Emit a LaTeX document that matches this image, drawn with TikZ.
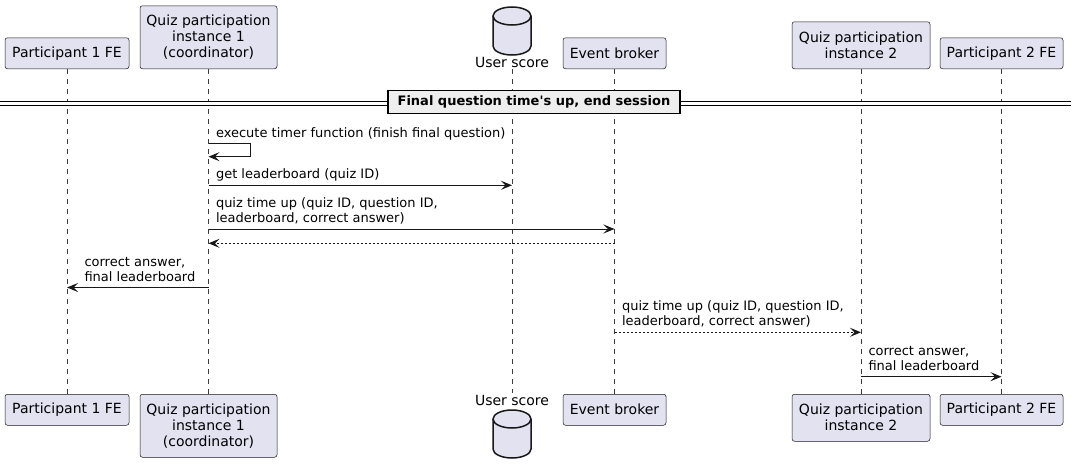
\documentclass[tikz,border=0pt]{standalone}
\usepackage{fontspec}
\newfontfamily\umlfont{DejaVu Sans}
\usetikzlibrary{arrows.meta,positioning}
\definecolor{boxfill}{HTML}{E2E2F0}
\definecolor{linecol}{HTML}{181818}
\definecolor{divfill}{HTML}{EEEEEE}

\tikzset{
  actor/.style={draw=linecol, line width=0.5pt, fill=boxfill, rounded corners=2.5pt,
    align=center, inner sep=0pt, font=\umlfont\fontsize{14}{16}\selectfont},
  dblabel/.style={inner sep=2pt, font=\umlfont\fontsize{14}{16}\selectfont},
  lifeline/.style={draw=linecol!85, line width=0.5pt, dash pattern=on 5pt off 5pt},
  msg/.style={draw=linecol, line width=1pt, -{Stealth[length=11pt,width=9pt,inset=4.5pt]}},
  reply/.style={msg, dash pattern=on 2pt off 2pt},
  msgtext/.style={align=left, inner sep=0pt, text depth=0pt,
    font=\umlfont\fontsize{13}{15}\selectfont},
  divbox/.style={draw=black, line width=1.5pt, fill=divfill, inner sep=0pt,
    font=\umlfont\bfseries\fontsize{13}{15}\selectfont},
}

\begin{document}
\begin{tikzpicture}[x=1pt, y=-1pt]
\useasboundingbox[fill=white] (0,0) rectangle (1074,471);

% participants, top row
\node [actor, anchor=south, minimum width=124, minimum height=31] (p1t) at (67,69) {Participant 1 FE};
\node [actor, anchor=south, minimum width=137, minimum height=63] (q1t) at (208.5,69) {Quiz participation\\instance 1\\(coordinator)};
\node [dblabel, anchor=base] (ust) at (512,67) {User score};
\node [actor, anchor=south, minimum width=103, minimum height=31] (ebt) at (614.5,69) {Event broker};
\node [actor, anchor=south, minimum width=138, minimum height=47] (q2t) at (861,69) {Quiz participation\\instance 2};
\node [actor, anchor=south, minimum width=123, minimum height=31] (p2t) at (1001.5,69) {Participant 2 FE};

% participants, bottom row
\node [actor, anchor=north, minimum width=124, minimum height=31] (p1b) at (67,394) {Participant 1 FE};
\node [actor, anchor=north, minimum width=137, minimum height=63] (q1b) at (208.5,394) {Quiz participation\\instance 1\\(coordinator)};
\node [dblabel, anchor=base] (usb) at (512,405) {User score};
\node [actor, anchor=north, minimum width=103, minimum height=31] (ebb) at (614.5,394) {Event broker};
\node [actor, anchor=north, minimum width=138, minimum height=47] (q2b) at (861,394) {Quiz participation\\instance 2};
\node [actor, anchor=north, minimum width=123, minimum height=31] (p2b) at (1001.5,394) {Participant 2 FE};

% database cylinders
\foreach \cy in {7,410} {
  \path [fill=boxfill] (493,\cy+9) -- (493,\cy+39)
    arc [start angle=180, end angle=0, x radius=19, y radius=9] -- (531,\cy+9)
    arc [start angle=0, end angle=-180, x radius=19, y radius=9] -- cycle;
  \draw [linecol, line width=1.5pt] (493,\cy+9) -- (493,\cy+39)
    arc [start angle=180, end angle=0, x radius=19, y radius=9] -- (531,\cy+9);
  \draw [linecol, line width=1.5pt] (512,\cy+9) ellipse [x radius=19, y radius=9];
}

% lifelines
\draw [lifeline] (p1t.south) -- (p1b.north);
\draw [lifeline] (q1t.south) -- (q1b.north);
\draw [lifeline] (ust.south) -- (usb.north);
\draw [lifeline] (ebt.south) -- (ebb.north);
\draw [lifeline] (q2t.south) -- (q2b.north);
\draw [lifeline] (p2t.south) -- (p2b.north);

% divider
\coordinate (dl) at (0,103.3);
\coordinate (dr) at (1071,103.3);
\draw [black, line width=1pt, double=white, double distance=2.5pt] (dl) -- (dr);
\node [divbox, minimum width=292, minimum height=23] (div) at (534,102) {Final question time's up, end session};

% message rows
\coordinate (r1) at (250.7,143);
\coordinate (r1e) at (0,156.7);
\coordinate (r2) at (0,185.3);
\coordinate (r3) at (0,229);
\coordinate (r4) at (0,243.3);
\coordinate (r5) at (0,287.5);
\coordinate (r6) at (0,332.3);
\coordinate (r7) at (0,376.7);

\draw [msg] (q1t |- r1) node [msgtext, above right=5pt and 7pt] {execute timer function (finish final question)}
  -- (r1) |- (q1t |- r1e);
\draw [msg] (q1t |- r2) node [msgtext, above right=6pt and 7pt] {get leaderboard (quiz ID)} -- (ust |- r2);
\draw [msg] (q1t |- r3) node [msgtext, above right=6pt and 7pt] {quiz time up (quiz ID, question ID,\\leaderboard, correct answer)} -- (ebt |- r3);
\draw [reply] (ebt |- r4) -- (q1t |- r4);
\draw [msg] (q1t |- r5) -- (p1t |- r5) node [msgtext, above right=6pt and 17pt] {correct answer,\\final leaderboard};
\draw [reply] (ebt |- r6) node [msgtext, above right=6pt and 7pt] {quiz time up (quiz ID, question ID,\\leaderboard, correct answer)} -- (q2t |- r6);
\draw [msg] (q2t |- r7) node [msgtext, above right=6pt and 7pt] {correct answer,\\final leaderboard} -- (p2t |- r7);
\end{tikzpicture}
\end{document}
